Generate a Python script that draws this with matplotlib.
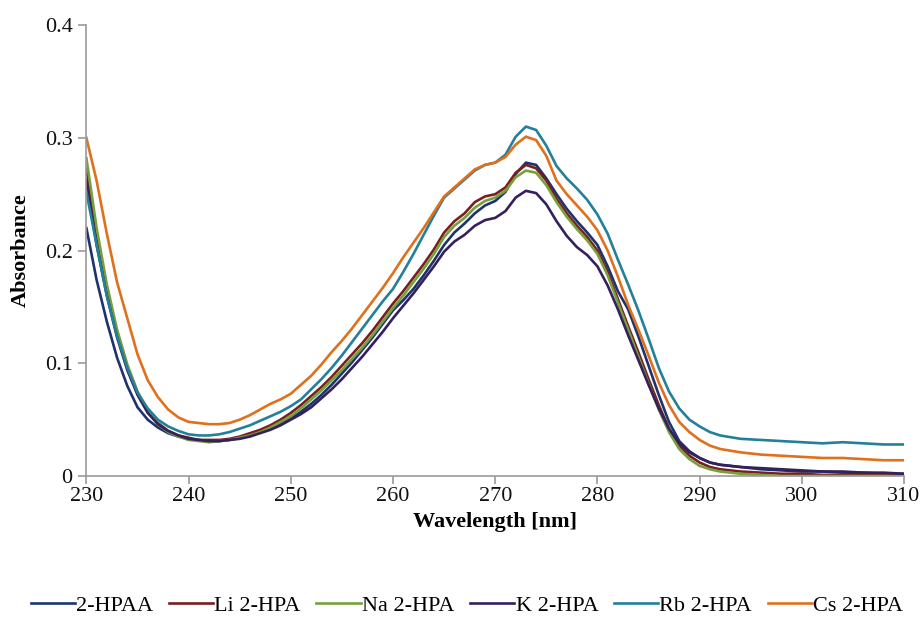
import matplotlib
matplotlib.use("Agg")
import matplotlib.pyplot as plt
from matplotlib.ticker import FuncFormatter

# wavelength grid (nm)
wavelength = list(range(230, 293)) + list(range(294, 311, 2))

hpaa = [0.220, 0.174, 0.137, 0.105, 0.080, 0.061, 0.050, 0.043, 0.038, 0.035,
        0.033, 0.032, 0.031, 0.031, 0.032, 0.034, 0.036, 0.039, 0.042, 0.046,
        0.051, 0.057, 0.064, 0.072, 0.081, 0.091, 0.101, 0.112, 0.123, 0.135,
        0.147, 0.156, 0.166, 0.178, 0.191, 0.205, 0.216, 0.224, 0.233, 0.240,
        0.244, 0.252, 0.268, 0.278, 0.276, 0.264, 0.250, 0.237, 0.226, 0.216,
        0.205, 0.186, 0.164, 0.148, 0.124, 0.098, 0.072, 0.048, 0.031, 0.022,
        0.016, 0.012, 0.010,
        0.008, 0.006, 0.005, 0.004, 0.004, 0.003, 0.003, 0.002, 0.002]

li_hpa = [0.272, 0.214, 0.166, 0.127, 0.097, 0.074, 0.057, 0.047, 0.040, 0.036,
          0.034, 0.032, 0.032, 0.032, 0.033, 0.035, 0.038, 0.041, 0.045, 0.050,
          0.056, 0.063, 0.071, 0.079, 0.088, 0.098, 0.108, 0.118, 0.129, 0.141,
          0.153, 0.164, 0.176, 0.188, 0.201, 0.216, 0.226, 0.233, 0.243, 0.248,
          0.250, 0.256, 0.269, 0.276, 0.273, 0.262, 0.246, 0.233, 0.222, 0.212,
          0.200, 0.181, 0.157, 0.133, 0.110, 0.086, 0.063, 0.042, 0.027, 0.018,
          0.012, 0.008, 0.006,
          0.004, 0.003, 0.002, 0.002, 0.001, 0.001, 0.001, 0.001, 0.001]

na_hpa = [0.282, 0.220, 0.170, 0.130, 0.099, 0.075, 0.058, 0.046, 0.039, 0.035,
          0.032, 0.031, 0.030, 0.031, 0.032, 0.034, 0.036, 0.039, 0.043, 0.048,
          0.053, 0.060, 0.068, 0.076, 0.085, 0.094, 0.104, 0.114, 0.125, 0.137,
          0.149, 0.160, 0.172, 0.184, 0.197, 0.212, 0.222, 0.229, 0.238, 0.244,
          0.247, 0.253, 0.265, 0.271, 0.269, 0.258, 0.243, 0.230, 0.219, 0.209,
          0.197, 0.178, 0.154, 0.130, 0.106, 0.082, 0.059, 0.039, 0.024, 0.015,
          0.009, 0.006, 0.004,
          0.002, 0.001, 0.000, 0.000, 0.000, 0.000, 0.000, 0.000, 0.000]

k_hpa = [0.262, 0.205, 0.160, 0.123, 0.094, 0.072, 0.056, 0.046, 0.040, 0.036,
         0.033, 0.032, 0.031, 0.031, 0.032, 0.033, 0.035, 0.038, 0.041, 0.045,
         0.050, 0.055, 0.061, 0.069, 0.077, 0.086, 0.096, 0.106, 0.117, 0.128,
         0.140, 0.151, 0.162, 0.174, 0.186, 0.199, 0.208, 0.214, 0.222, 0.227,
         0.229, 0.235, 0.247, 0.253, 0.251, 0.241, 0.226, 0.213, 0.203, 0.196,
         0.186, 0.169, 0.148, 0.125, 0.103, 0.081, 0.060, 0.042, 0.029, 0.021,
         0.016, 0.012, 0.010,
         0.008, 0.007, 0.006, 0.005, 0.004, 0.004, 0.003, 0.003, 0.002]

rb_hpa = [0.252, 0.205, 0.160, 0.124, 0.096, 0.074, 0.060, 0.050, 0.044, 0.040,
          0.037, 0.036, 0.036, 0.037, 0.039, 0.042, 0.045, 0.049, 0.053, 0.057,
          0.062, 0.068, 0.077, 0.086, 0.096, 0.107, 0.119, 0.131, 0.143, 0.155,
          0.166, 0.181, 0.197, 0.214, 0.231, 0.247, 0.255, 0.263, 0.271, 0.276,
          0.278, 0.285, 0.301, 0.310, 0.307, 0.293, 0.275, 0.264, 0.255, 0.245,
          0.232, 0.215, 0.192, 0.170, 0.147, 0.122, 0.096, 0.075, 0.060, 0.050,
          0.044, 0.039, 0.036,
          0.033, 0.032, 0.031, 0.030, 0.029, 0.030, 0.029, 0.028, 0.028]

cs_hpa = [0.300, 0.262, 0.215, 0.172, 0.140, 0.108, 0.085, 0.070, 0.059, 0.052,
          0.048, 0.047, 0.046, 0.046, 0.047, 0.050, 0.054, 0.059, 0.064, 0.068,
          0.073, 0.081, 0.089, 0.099, 0.110, 0.120, 0.131, 0.143, 0.155, 0.167,
          0.180, 0.194, 0.207, 0.220, 0.234, 0.248, 0.256, 0.264, 0.272, 0.276,
          0.278, 0.283, 0.294, 0.301, 0.298, 0.284, 0.262, 0.250, 0.240, 0.230,
          0.218, 0.200, 0.177, 0.152, 0.130, 0.107, 0.083, 0.063, 0.048, 0.039,
          0.032, 0.027, 0.024,
          0.021, 0.019, 0.018, 0.017, 0.016, 0.016, 0.015, 0.014, 0.014]

labels = ["2-HPAA", "Li 2-HPA", "Na 2-HPA", "K 2-HPA", "Rb 2-HPA", "Cs 2-HPA"]
colors = ["#1c3370", "#7a1f1f", "#77a03a", "#35205e", "#23809a", "#e0701c"]
series = [hpaa, li_hpa, na_hpa, k_hpa, rb_hpa, cs_hpa]

plt.rcParams["font.family"] = ["Liberation Serif", "DejaVu Serif"]

fig = plt.figure(figsize=(9.21, 6.28), dpi=100)
ax = fig.add_axes([0.0938, 0.242, 0.8878, 0.718])

for vals, lab, c in zip(series, labels, colors):
    ax.plot(wavelength, vals, color=c, lw=1.9, label=lab)

ax.set_xlim(230, 310)
ax.set_ylim(0, 0.4)
ax.set_xticks(range(230, 311, 10))
ax.set_yticks([0, 0.1, 0.2, 0.3, 0.4])
ax.yaxis.set_major_formatter(FuncFormatter(lambda v, p: "0" if v == 0 else f"{v:.1f}"))

for s in ["top", "right"]:
    ax.spines[s].set_visible(False)
for s in ["left", "bottom"]:
    ax.spines[s].set_color("#9a9a9a")
    ax.spines[s].set_linewidth(1.2)
ax.tick_params(axis="both", direction="out", length=6, width=1.2, color="#9a9a9a",
               labelsize=16, labelcolor="#111111", pad=4)
ax.tick_params(axis="x", pad=2)

ax.set_xlabel("Wavelength [nm]", fontsize=16, fontweight="bold", labelpad=4)
ax.set_ylabel("Absorbance", fontsize=16, fontweight="bold", labelpad=10)

fig.legend(loc="center", bbox_to_anchor=(0.507, 0.036), ncol=6, frameon=False,
           fontsize=16, handlelength=2.0, handletextpad=0.05, columnspacing=0.7,
           borderpad=0.2)

fig.savefig("out.png", dpi=100)
